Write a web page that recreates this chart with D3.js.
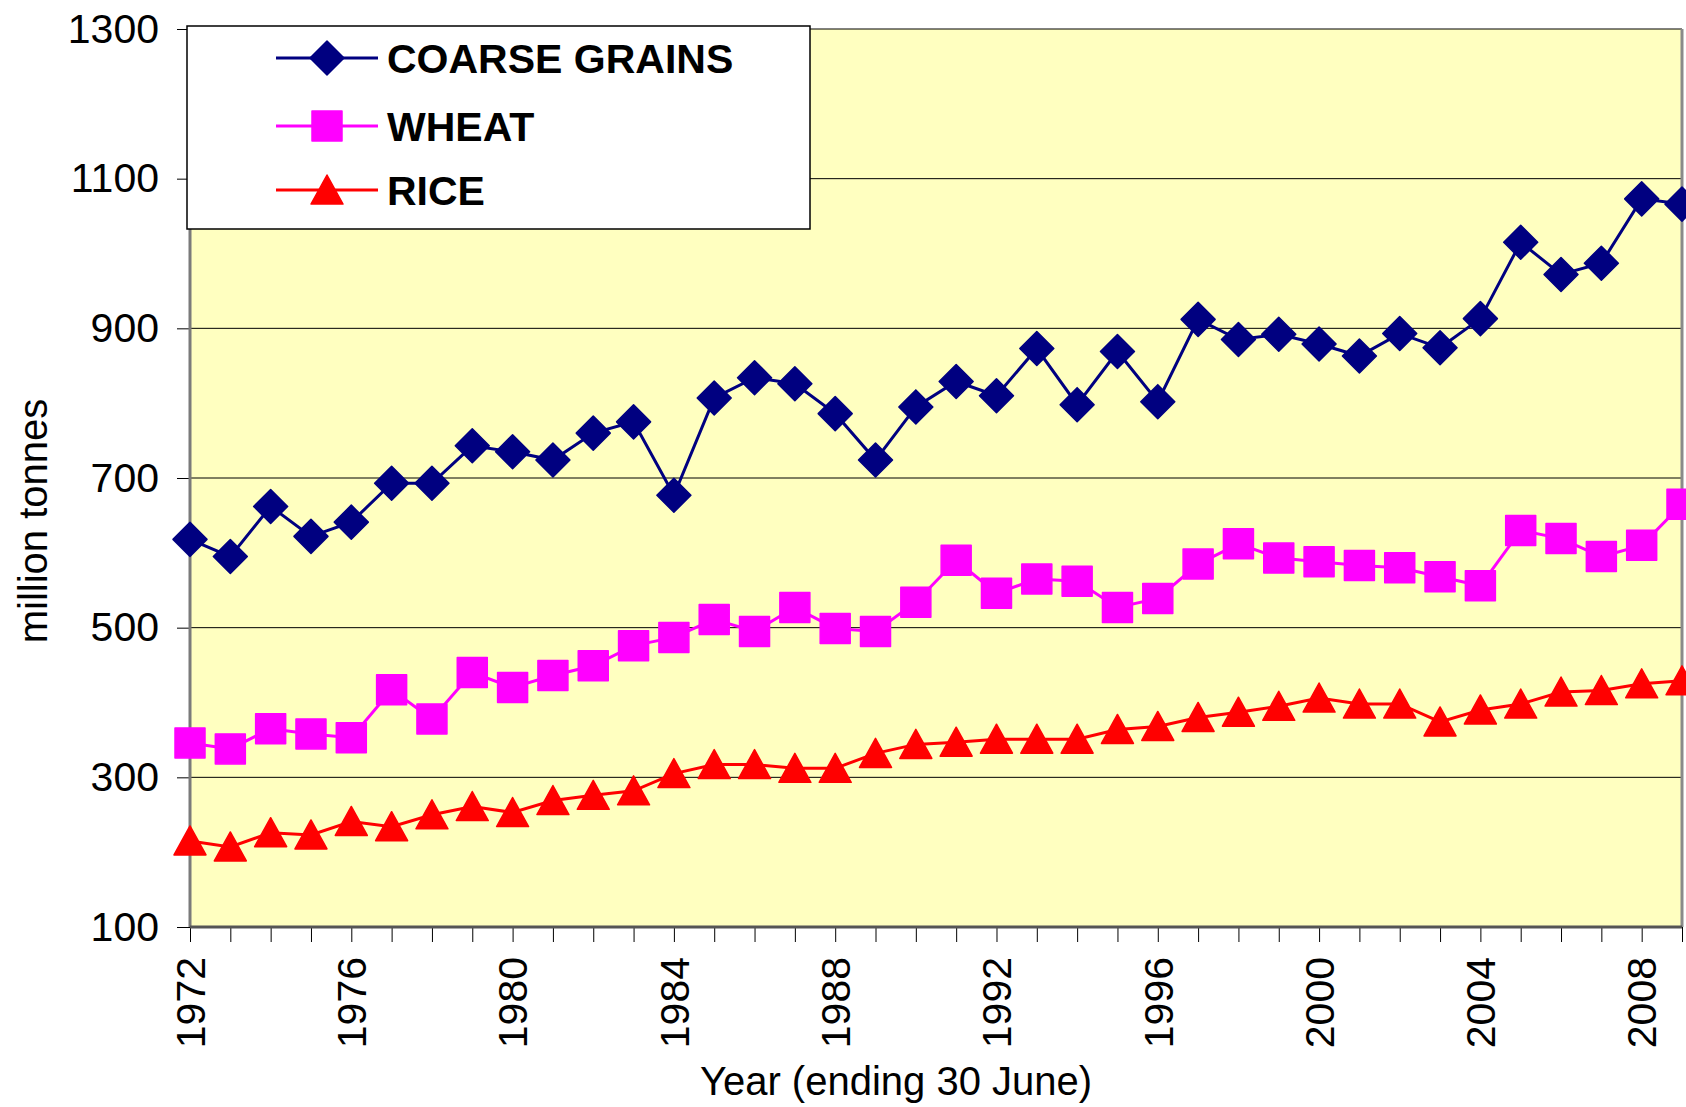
<!DOCTYPE html>
<html>
<head>
<meta charset="utf-8">
<script src="https://cdn.jsdelivr.net/npm/d3@7"></script>
<style>
  body { margin: 0; background: #fff; }
  text { font-family: "Liberation Sans", Arial, sans-serif; }
</style>
</head>
<body>
<div id="chart"></div>
<script>
// data (million tonnes, year ending 30 June)
var years = [1972, 1973, 1974, 1975, 1976, 1977, 1978, 1979, 1980, 1981,
             1982, 1983, 1984, 1985, 1986, 1987, 1988, 1989, 1990, 1991,
             1992, 1993, 1994, 1995, 1996, 1997, 1998, 1999, 2000, 2001,
             2002, 2003, 2004, 2005, 2006, 2007, 2008, 2009];
var coarseGrains = [618, 595, 662, 622, 641, 693, 693, 743, 735, 724,
                    760, 775, 677, 807, 834, 826, 786, 724, 795, 829,
                    810, 873, 798, 869, 802, 912, 885, 892, 879, 863,
                    893, 874, 913, 1015, 972, 987, 1073, 1066];
var wheat = [346, 338, 365, 358, 353, 417, 378, 440, 420, 436,
             449, 476, 487, 511, 495, 527, 499, 495, 534, 590,
             546, 565, 562, 527, 539, 585, 612, 593, 588, 583,
             580, 568, 556, 630, 619, 595, 610, 665];
var rice = [215, 207, 226, 223, 241, 234, 250, 261, 253, 269,
            276, 282, 305, 317, 317, 312, 312, 332, 344, 347,
            351, 351, 351, 364, 368, 380, 387, 395, 406, 398,
            398, 374, 390, 398, 414, 416, 425, 429];
var yTicks = [100, 300, 500, 700, 900, 1100, 1300];
var xLabels = [1972, 1976, 1980, 1984, 1988, 1992, 1996, 2000, 2004, 2008];

var series = [
  {name: "COARSE GRAINS", values: coarseGrains, color: "#000080", shape: "diamond"},
  {name: "WHEAT", values: wheat, color: "#FF00FF", shape: "square"},
  {name: "RICE", values: rice, color: "#FF0000", shape: "triangle"}
];

// svg bounds
var W = 1686, H = 1107;
var margin = {top: 29, right: 4, bottom: 180, left: 190};
var width = W - margin.left - margin.right;
var height = H - margin.top - margin.bottom;

var svg = d3.select("#chart").append("svg")
    .attr("width", W)
    .attr("height", H)
  .append("g")
    .attr("transform", "translate(" + margin.left + "," + margin.top + ")");

var xScale = d3.scaleLinear()
    .domain([years[0], years[years.length - 1]])
    .range([0, width]);

var yScale = d3.scaleLinear()
    .domain([100, 1300])
    .range([height, 0]);

// plot area
svg.append("rect")
    .attr("width", width)
    .attr("height", height)
    .attr("fill", "#FFFFC0");

svg.selectAll(".grid")
    .data(yTicks.slice(1))
    .enter().append("line")
    .attr("class", "grid")
    .attr("x1", 0).attr("x2", width)
    .attr("y1", function(d) { return yScale(d); })
    .attr("y2", function(d) { return yScale(d); })
    .attr("stroke", "#000")
    .attr("stroke-width", 1);

// axes
var yAxis = svg.append("g")
    .call(d3.axisLeft(yScale).tickValues(yTicks).tickFormat(d3.format("d"))
      .tickSize(13).tickPadding(18));
yAxis.select(".domain").remove();
yAxis.selectAll("text")
    .attr("font-size", 41)
    .attr("font-family", "Liberation Sans, Arial, sans-serif")
    .attr("fill", "#000");

var xAxis = svg.append("g")
    .attr("transform", "translate(0," + height + ")")
    .call(d3.axisBottom(xScale).tickValues(years).tickSize(15).tickFormat(""));
xAxis.select(".domain").remove();

svg.selectAll(".xlabel")
    .data(xLabels)
    .enter().append("text")
    .attr("class", "xlabel")
    .attr("transform", function(d) {
      return "translate(" + xScale(d) + "," + (height + 30) + ") rotate(-90)";
    })
    .attr("text-anchor", "end")
    .attr("dy", "0.36em")
    .attr("font-size", 41)
    .text(function(d) { return d; });

// plot frame
svg.append("line")
    .attr("x1", 0).attr("x2", 0).attr("y1", 0).attr("y2", height)
    .attr("stroke", "#7a7a7a").attr("stroke-width", 3);
svg.append("line")
    .attr("x1", width).attr("x2", width).attr("y1", 0).attr("y2", height)
    .attr("stroke", "#8a8a8a").attr("stroke-width", 3);
svg.append("line")
    .attr("x1", 0).attr("x2", width).attr("y1", height).attr("y2", height)
    .attr("stroke", "#555").attr("stroke-width", 3);

// axis titles
svg.append("text")
    .attr("transform", "translate(" + (35 - margin.left + 12) + "," + (521 - margin.top) + ") rotate(-90)")
    .attr("text-anchor", "middle")
    .attr("font-size", 40)
    .text("million tonnes");

svg.append("text")
    .attr("x", 896 - margin.left)
    .attr("y", H - margin.top - 12)
    .attr("text-anchor", "middle")
    .attr("font-size", 40)
    .text("Year (ending 30 June)");

// marker shapes
function markerPath(shape) {
  if (shape == "diamond") return "M0,-17L17,0L0,17L-17,0Z";
  if (shape == "square") return "M-15,-15L15,-15L15,15L-15,15Z";
  return "M0,-15L16,14L-16,14Z";
}

// lines + markers
var line = d3.line()
    .x(function(d, i) { return xScale(years[i]); })
    .y(function(d) { return yScale(d); });

series.forEach(function(s) {
  svg.append("path")
      .datum(s.values)
      .attr("fill", "none")
      .attr("stroke", s.color)
      .attr("stroke-width", 3)
      .attr("d", line);

  svg.selectAll(".dot-" + s.shape)
      .data(s.values)
      .enter().append("path")
      .attr("class", "dot-" + s.shape)
      .attr("transform", function(d, i) {
        return "translate(" + xScale(years[i]) + "," + yScale(d) + ")";
      })
      .attr("d", markerPath(s.shape))
      .attr("fill", s.color)
      .attr("stroke", s.color)
      .attr("stroke-width", 1.5)
      .attr("stroke-linejoin", "round");
});

// legend
var legend = svg.append("g")
    .attr("transform", "translate(" + (187 - margin.left) + "," + (26 - margin.top) + ")");

legend.append("rect")
    .attr("width", 623)
    .attr("height", 203)
    .attr("fill", "#fff")
    .attr("stroke", "#000")
    .attr("stroke-width", 1.5);

var rows = [32, 100, 164];
series.forEach(function(s, i) {
  var g = legend.append("g").attr("transform", "translate(0," + rows[i] + ")");
  g.append("line")
      .attr("x1", 89).attr("x2", 191)
      .attr("stroke", s.color).attr("stroke-width", 3);
  g.append("path")
      .attr("transform", "translate(140,0)")
      .attr("d", markerPath(s.shape))
      .attr("fill", s.color)
      .attr("stroke", s.color)
      .attr("stroke-width", 1.5)
      .attr("stroke-linejoin", "round");
  g.append("text")
      .attr("x", 200)
      .attr("dy", "0.36em")
      .attr("font-size", 41)
      .attr("font-weight", "bold")
      .text(s.name);
});
</script>
</body>
</html>
